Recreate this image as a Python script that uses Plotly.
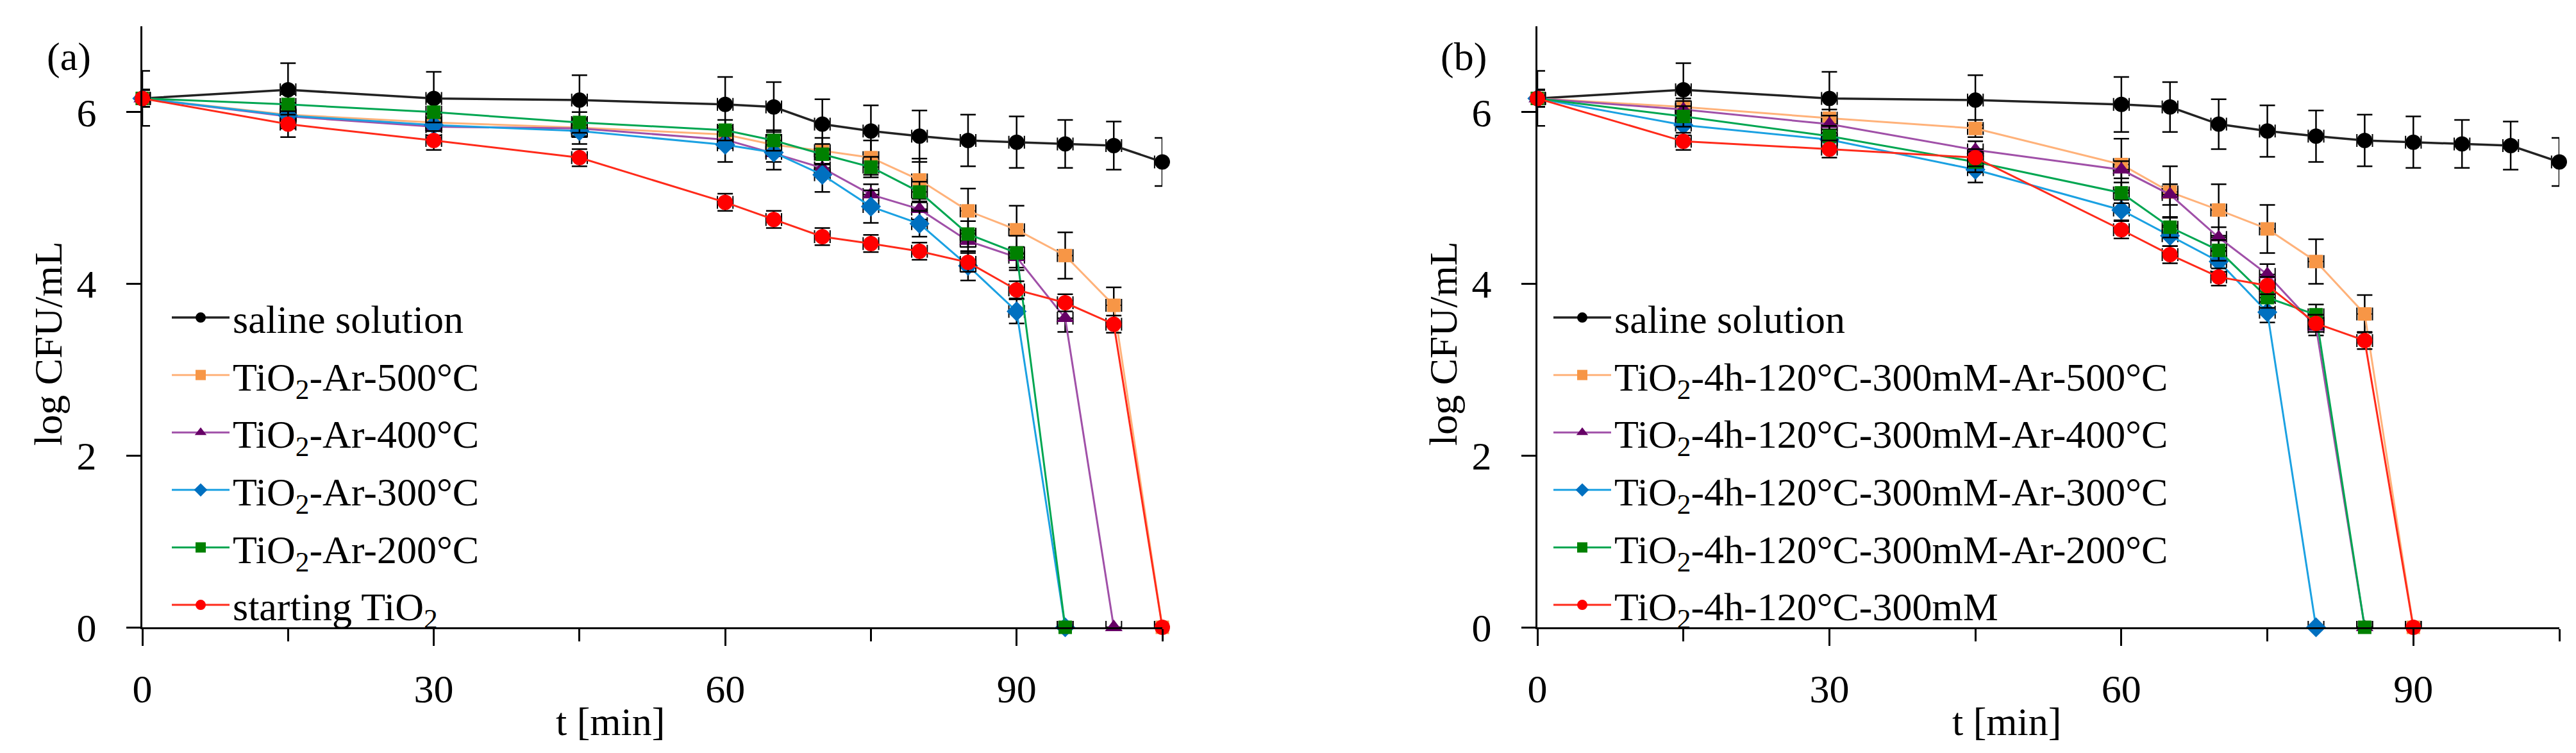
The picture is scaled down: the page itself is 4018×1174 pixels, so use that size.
import plotly.graph_objects as go

# time points [min]
t_full = [0, 15, 30, 45, 60, 65, 70, 75, 80, 85, 90, 95, 100, 105]

# ---- panel (a) ----
saline = [6.16, 6.26, 6.16, 6.14, 6.09, 6.06, 5.86, 5.78, 5.72, 5.67, 5.65, 5.63, 5.61, 5.42]
saline_err = [0.32, 0.31, 0.31, 0.29, 0.32, 0.29, 0.29, 0.30, 0.30, 0.30, 0.30, 0.28, 0.28, 0.28]

a500 = [6.16, 5.97, 5.88, 5.82, 5.74, 5.62, 5.55, 5.47, 5.21, 4.85, 4.63, 4.33, 3.75, 0]
a500_err = [0.1, 0.1, 0.1, 0.1, 0.1, 0.12, 0.15, 0.2, 0.25, 0.26, 0.28, 0.27, 0.21, 0]
a400 = [6.16, 5.95, 5.83, 5.81, 5.68, 5.52, 5.35, 5.04, 4.87, 4.50, 4.31, 3.60, 0]
a400_err = [0.1, 0.1, 0.1, 0.1, 0.1, 0.1, 0.1, 0.12, 0.12, 0.12, 0.12, 0.16, 0]
a300 = [6.16, 5.96, 5.85, 5.78, 5.62, 5.53, 5.27, 4.90, 4.70, 4.21, 3.68, 0]
a300_err = [0.1, 0.15, 0.15, 0.15, 0.2, 0.2, 0.2, 0.19, 0.15, 0.17, 0.14, 0]
a200 = [6.16, 6.09, 6.00, 5.88, 5.79, 5.67, 5.51, 5.36, 5.07, 4.58, 4.36, 0]
a200_err = [0.1, 0.12, 0.12, 0.12, 0.12, 0.12, 0.12, 0.12, 0.12, 0.15, 0.2, 0]
a_start = [6.16, 5.86, 5.67, 5.47, 4.95, 4.75, 4.55, 4.47, 4.38, 4.25, 3.93, 3.78, 3.53, 0]
a_start_err = [0.1, 0.15, 0.11, 0.1, 0.1, 0.1, 0.1, 0.1, 0.1, 0.11, 0.1, 0.1, 0.1, 0]

# ---- panel (b) ----
b500 = [6.16, 6.06, 5.93, 5.81, 5.39, 5.07, 4.86, 4.64, 4.26, 3.65, 0]
b500_err = [0.1, 0.1, 0.1, 0.1, 0.3, 0.3, 0.3, 0.28, 0.26, 0.22, 0]
b400 = [6.16, 6.03, 5.86, 5.56, 5.33, 5.04, 4.54, 4.11, 3.50, 0]
b400_err = [0.1, 0.1, 0.1, 0.1, 0.1, 0.12, 0.12, 0.12, 0.1, 0]
b300 = [6.16, 5.85, 5.68, 5.33, 4.86, 4.56, 4.26, 3.67, 0]
b300_err = [0.1, 0.12, 0.12, 0.15, 0.12, 0.12, 0.12, 0.12, 0]
b200 = [6.16, 5.95, 5.72, 5.42, 5.06, 4.66, 4.39, 3.84, 3.64, 0]
b200_err = [0.1, 0.12, 0.12, 0.12, 0.12, 0.12, 0.12, 0.12, 0.12, 0]
b_start = [6.16, 5.66, 5.57, 5.47, 4.63, 4.34, 4.08, 3.98, 3.54, 3.34, 0]
b_start_err = [0.1, 0.1, 0.1, 0.1, 0.1, 0.1, 0.1, 0.1, 0.1, 0.1, 0]

x_err = 0.8

FONT = "Liberation Serif"
FS = 62

# marker symbol, marker colour, line colour, marker size
styles = {
    "saline": ("circle", "#000000", "#222222", 24),
    "500": ("square", "#F79646", "#FFB27A", 21),
    "400": ("triangle-up", "#660066", "#A050A8", 24),
    "300": ("diamond", "#0070C0", "#1BA1E2", 24),
    "200": ("square", "#008000", "#00A651", 21),
    "start": ("circle", "#FF0000", "#FF2A1A", 24),
}


def trace(ys, errs, key, name, xaxis, yaxis, legend):
    sym, mcol, lcol, size = styles[key]
    return go.Scatter(
        x=t_full[:len(ys)], y=ys,
        mode="lines+markers", name=name,
        xaxis=xaxis, yaxis=yaxis, legend=legend,
        legendgroup=legend + key,
        cliponaxis=False,
        line=dict(color=lcol, width=3.5 if key == "saline" else 3),
        marker=dict(symbol=sym, color=mcol, size=size, line=dict(width=0)),
        error_y=dict(type="data", array=errs, color="black", thickness=2.5, width=12),
        error_x=dict(type="constant", value=x_err, color="black", thickness=2, width=10),
    )


fig = go.Figure()

fig.add_trace(trace(saline, saline_err, "saline", "saline solution", "x", "y", "legend"))
fig.add_trace(trace(a500, a500_err, "500", "TiO<sub>2</sub>-Ar-500°C", "x", "y", "legend"))
fig.add_trace(trace(a400, a400_err, "400", "TiO<sub>2</sub>-Ar-400°C", "x", "y", "legend"))
fig.add_trace(trace(a300, a300_err, "300", "TiO<sub>2</sub>-Ar-300°C", "x", "y", "legend"))
fig.add_trace(trace(a200, a200_err, "200", "TiO<sub>2</sub>-Ar-200°C", "x", "y", "legend"))
fig.add_trace(trace(a_start, a_start_err, "start", "starting TiO<sub>2</sub>", "x", "y", "legend"))

pre = "TiO<sub>2</sub>-4h-120°C-300mM"
fig.add_trace(trace(saline, saline_err, "saline", "saline solution", "x2", "y2", "legend2"))
fig.add_trace(trace(b500, b500_err, "500", pre + "-Ar-500°C", "x2", "y2", "legend2"))
fig.add_trace(trace(b400, b400_err, "400", pre + "-Ar-400°C", "x2", "y2", "legend2"))
fig.add_trace(trace(b300, b300_err, "300", pre + "-Ar-300°C", "x2", "y2", "legend2"))
fig.add_trace(trace(b200, b200_err, "200", pre + "-Ar-200°C", "x2", "y2", "legend2"))
fig.add_trace(trace(b_start, b_start_err, "start", pre, "x2", "y2", "legend2"))

xcommon = dict(
    range=[0, 105], tickvals=[0, 30, 60, 90], showgrid=False, zeroline=False,
    showline=True, linecolor="black", linewidth=3, automargin=False,
    ticks="outside", ticklen=26, tickwidth=2.5, tickcolor="black",
    minor=dict(tickvals=[15, 45, 75, 105], ticks="outside", ticklen=19, tickwidth=2.5, tickcolor="black"),
    tickfont=dict(family=FONT, size=FS, color="black"), ticklabelstandoff=14,
)
ycommon = dict(
    range=[0, 7], tickvals=[0, 2, 4, 6], showgrid=False, zeroline=False,
    showline=True, linecolor="black", linewidth=3, automargin=False,
    ticks="outside", ticklen=22, tickwidth=2.5, tickcolor="black",
    tickfont=dict(family=FONT, size=FS, color="black"), ticklabelstandoff=34,
)

ydom = [204 / 1174, 1141 / 1174]
leg = dict(font=dict(family=FONT, size=FS, color="black"), bgcolor="rgba(0,0,0,0)",
           traceorder="grouped", tracegroupgap=6, yanchor="top", y=0.625, xanchor="left",
           itemwidth=90)

fig.update_layout(
    width=4018, height=1174,
    margin=dict(l=0, r=0, t=0, b=0, autoexpand=False),
    paper_bgcolor="white", plot_bgcolor="white",
    font=dict(family=FONT, size=FS, color="black"),
    xaxis=dict(domain=[214 / 4018, 1805 / 4018], anchor="y", **xcommon),
    yaxis=dict(domain=ydom, anchor="x", **ycommon),
    xaxis2=dict(domain=[2390 / 4018, 3984 / 4018], anchor="y2", **xcommon),
    yaxis2=dict(domain=ydom, anchor="x2", **ycommon),
    legend=dict(x=255 / 4018, **leg),
    legend2=dict(x=2410 / 4018, **leg),
    showlegend=True,
)

ann_font = dict(family=FONT, size=FS, color="black")
for px0, lab in [(214, "(a)"), (2390, "(b)")]:
    fig.add_annotation(text=lab, x=(px0 - 115) / 4018, y=(1174 - 80) / 1174,
                       xref="paper", yref="paper", xanchor="center", yanchor="middle",
                       showarrow=False, font=ann_font)
    fig.add_annotation(text="log CFU/mL", textangle=-90, x=(px0 - 147) / 4018, y=(1174 - 528) / 1174,
                       xref="paper", yref="paper", xanchor="center", yanchor="middle",
                       showarrow=False, font=ann_font)
for xr in ["x", "x2"]:
    fig.add_annotation(text="t [min]", x=48.2, xref=xr, y=(1174 - 1117) / 1174, yref="paper",
                       xanchor="center", yanchor="middle", showarrow=False, font=ann_font)

fig.write_html("out.html")
